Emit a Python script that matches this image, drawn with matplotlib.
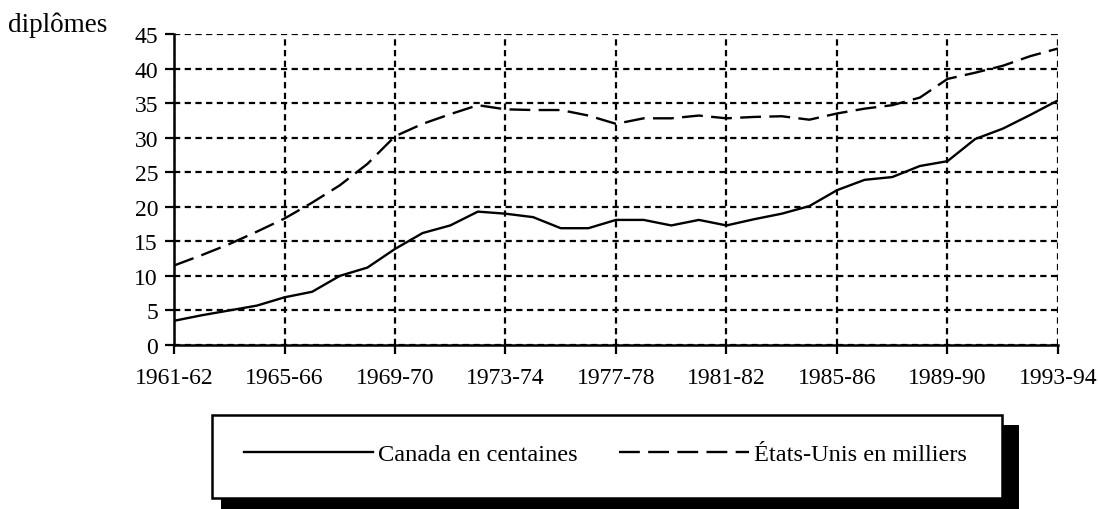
import matplotlib
matplotlib.use("Agg")
import matplotlib.pyplot as plt
from matplotlib.lines import Line2D
from matplotlib.patches import Rectangle

plt.rcParams['font.family'] = ['Liberation Serif', 'DejaVu Serif']
plt.rcParams['lines.scale_dashes'] = False

# Données
annees = [f"{a}-{str(a + 1)[-2:]}" for a in range(1961, 1994)]
canada = [3.5, 4.3, 5.0, 5.7, 6.9, 7.7, 10.0, 11.2, 13.9, 16.2,
          17.3, 19.3, 19.0, 18.5, 16.9, 16.9, 18.1, 18.1, 17.3, 18.1,
          17.3, 18.2, 19.0, 20.1, 22.4, 23.9, 24.3, 25.9, 26.6, 29.8,
          31.3, 33.3, 35.4]
etats_unis = [11.5, 13.0, 14.6, 16.4, 18.3, 20.6, 23.1, 26.2, 30.2, 32.0,
              33.4, 34.7, 34.1, 34.0, 34.0, 33.2, 32.0, 32.8, 32.8, 33.2,
              32.8, 33.0, 33.1, 32.6, 33.5, 34.2, 34.7, 35.8, 38.5, 39.4,
              40.4, 41.8, 42.9]

W, H = 1098, 510
fig = plt.figure(figsize=(W / 100, H / 100), dpi=100)


def fx(px):
    return px / W


def fy(py):
    return 1 - py / H


ax = fig.add_axes([fx(174), fy(346), fx(1058) - fx(174), fy(35) - fy(346)])

x = list(range(len(annees)))
ax.plot(x, canada, color='black', lw=1.7)
ax.plot(x, etats_unis, color='black', lw=1.7, dashes=(15, 6))

ax.set_xlim(0, len(annees) - 1)
ax.set_ylim(0, 45)
ax.set_xticks(x[::4])
ax.set_xticklabels(annees[::4])
ax.set_yticks(range(0, 46, 5))

ax.grid(True, color='black', lw=1.6, linestyle=(0, (4.5, 3.2)))
for s in ['top', 'right']:
    ax.spines[s].set_visible(False)
for s in ['left', 'bottom']:
    ax.spines[s].set_linewidth(1.8)
ax.tick_params(direction='out', length=6.5, width=1.6, labelsize=17, color='black')
ax.tick_params(axis='x', pad=9)
ax.tick_params(axis='y', pad=5)

fig.text(fx(8), fy(32), "diplômes", fontsize=19.5, va='baseline', ha='left')

# Légende avec ombre
fig.patches.append(Rectangle((fx(221), fy(515)), fx(1019) - fx(221), fy(426) - fy(515),
                             transform=fig.transFigure, facecolor='black',
                             edgecolor='none', zorder=1))
fig.patches.append(Rectangle((fx(212), fy(499)), fx(1002) - fx(212), fy(416) - fy(499),
                             transform=fig.transFigure, facecolor='white',
                             edgecolor='black', lw=1.8, zorder=2))
handles = [Line2D([], [], color='black', lw=1.7),
           Line2D([], [], color='black', lw=1.7, dashes=(15, 6))]
leg = fig.legend(handles, ["Canada en centaines", "États-Unis en milliers"],
                 loc='center', bbox_to_anchor=(fx(605), fy(455)), ncol=2,
                 frameon=False, fontsize=17.6, handlelength=5.3, handletextpad=0.2,
                 columnspacing=1.7)
leg.set_zorder(3)

fig.savefig("out.png", dpi=100)
